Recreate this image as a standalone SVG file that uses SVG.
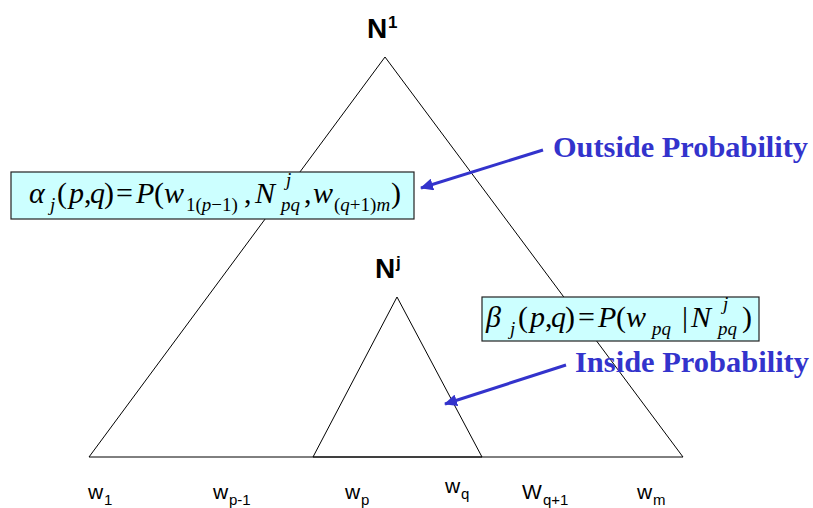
<svg xmlns="http://www.w3.org/2000/svg" width="813" height="508" viewBox="0 0 813 508">
<style>
.tri{fill:none;stroke:#000;stroke-width:1}
.box{fill:#CCFFFF;stroke:#222;stroke-width:1.2}
.m{font-family:"Liberation Serif",serif;font-size:30px;fill:#000}
.s{font-family:"Liberation Serif",serif;font-size:19px;fill:#000}
.i{font-style:italic}
.lbl{font-family:"Liberation Sans",Arial,sans-serif;font-size:21px;fill:#000}
.sub{font-family:"Liberation Sans",Arial,sans-serif;font-size:15px;fill:#000}
.nn{font-family:"Liberation Sans",Arial,sans-serif;font-weight:bold;font-size:28px;fill:#000}
.ns{font-family:"Liberation Sans",Arial,sans-serif;font-weight:bold;font-size:17px;fill:#000}
.blue{font-family:"Liberation Serif",serif;font-weight:bold;font-size:30px;fill:#3333CC}
.arr{stroke:#3333CC;stroke-width:3;fill:none}
</style>
<defs>
<marker id="ah" markerUnits="userSpaceOnUse" markerWidth="14" markerHeight="12" refX="12" refY="6" orient="auto">
<path d="M0,0 L13,6 L0,12 z" fill="#3333CC"/>
</marker>
</defs>
<g id="outer-triangle"><path class="tri" d="M385,57 L89,457 L683,457 Z"/></g>
<g id="inner-triangle"><path class="tri" d="M397,297 L313,457 L482,457 Z"/></g>
<g id="N1"><text class="nn" x="367" y="38">N</text><text class="ns" x="388" y="28">1</text></g>
<g id="Nj"><text class="nn" x="375" y="278">N</text><text class="ns" x="396" y="268">j</text></g>
<g id="alpha-box">
<rect class="box" x="11" y="172" width="403" height="47"/>
<text class="m i" x="29" y="203">α</text>
<text class="s i" x="50" y="211">j</text>
<text class="m" x="57" y="203">(</text>
<text class="m i" x="69" y="203">p</text>
<text class="m" x="84" y="203">,</text>
<text class="m i" x="90" y="203">q</text>
<text class="m" x="104" y="203">)</text>
<text class="m" x="116" y="203">=</text>
<text class="m i" x="136" y="203">P</text>
<text class="m" x="154" y="203">(</text>
<text class="m i" x="164" y="203">w</text>
<text class="s" x="186" y="211">1(<tspan class="i">p</tspan>−1)</text>
<text class="m" x="244" y="203">,</text>
<text class="m i" x="255" y="203">N</text>
<text class="s i" x="286" y="186">j</text>
<text class="s i" x="281" y="211">pq</text>
<text class="m" x="304" y="203">,</text>
<text class="m i" x="313" y="203">w</text>
<text class="s" x="334" y="211">(<tspan class="i">q</tspan>+1)<tspan class="i">m</tspan></text>
<text class="m" x="391" y="203">)</text>
</g>
<g id="beta-box">
<rect class="box" x="482" y="297" width="277" height="44"/>
<text class="m i" x="486" y="327">β</text>
<text class="s i" x="510" y="335">j</text>
<text class="m" x="518" y="327">(</text>
<text class="m i" x="530" y="327">p</text>
<text class="m" x="545" y="327">,</text>
<text class="m i" x="551" y="327">q</text>
<text class="m" x="565" y="327">)</text>
<text class="m" x="578" y="327">=</text>
<text class="m i" x="598" y="327">P</text>
<text class="m" x="616" y="327">(</text>
<text class="m i" x="626" y="327">w</text>
<text class="s i" x="652" y="335">pq</text>
<text class="m" x="682" y="327">|</text>
<text class="m i" x="691" y="327">N</text>
<text class="s i" x="723" y="310">j</text>
<text class="s i" x="718" y="335">pq</text>
<text class="m" x="742" y="327">)</text>
</g>
<g id="outside-label"><text class="blue" x="553" y="157" textLength="255" lengthAdjust="spacingAndGlyphs">Outside Probability</text></g>
<g id="inside-label"><text class="blue" x="575" y="372" textLength="234" lengthAdjust="spacingAndGlyphs">Inside Probability</text></g>
<g id="connectors">
<line class="arr" x1="543" y1="150" x2="421" y2="188" marker-end="url(#ah)"/>
<line class="arr" x1="566" y1="365" x2="445" y2="404" marker-end="url(#ah)"/>
</g>
<g id="word-labels">
<text class="lbl" x="88" y="499">w</text><text class="sub" x="104" y="505">1</text>
<text class="lbl" x="213" y="499">w</text><text class="sub" x="229" y="505">p-1</text>
<text class="lbl" x="345" y="499">w</text><text class="sub" x="361" y="505">p</text>
<text class="lbl" x="445" y="493">w</text><text class="sub" x="461" y="499">q</text>
<text class="lbl" x="522" y="499">W</text><text class="sub" x="543" y="505">q+1</text>
<text class="lbl" x="637" y="499">w</text><text class="sub" x="653" y="505">m</text>
</g>
</svg>
